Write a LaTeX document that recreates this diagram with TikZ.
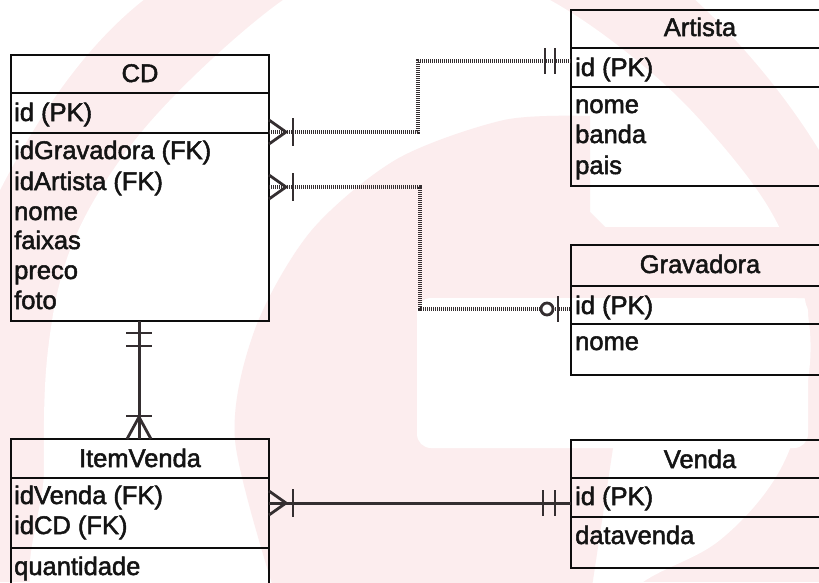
\documentclass[tikz,border=0pt]{standalone}
\usepackage{fontspec}
\setmainfont{Liberation Sans}
\newcommand\heavytext[1]{\special{pdf:literal direct 2 Tr 0.5 w}#1\special{pdf:literal direct 0 Tr}}
\definecolor{wm}{RGB}{252,237,238}
\definecolor{conn}{RGB}{52,46,48}
\begin{document}
\begin{tikzpicture}[x=1pt,y=-1pt,
  ent/.style={draw=black!95, line width=2.4pt, inner sep=0pt, outer sep=0pt, anchor=north west},
  sepline/.style={draw=black!95, line width=2.4pt},
  ttl/.style={font=\fontsize{25.5}{30}\selectfont, anchor=base, inner sep=0pt, text=black!92},
  fld/.style={font=\fontsize{25.5}{30}\selectfont, anchor=base west, inner sep=0pt, text=black!92},
  solidconn/.style={draw=conn, line width=3pt},
  dotconn/.style={draw=conn, line width=3.2pt, dash pattern=on 1.2pt off 0.8pt},
  mk/.style={draw=conn, line width=2.8pt},
]
\useasboundingbox (0,0) rectangle (819,582);
\clip (0,0) rectangle (819,582);
% watermark
\fill[wm] (0,0) rectangle (819,582);
\fill[white] (-5,-5) -- (-5,200) .. controls (40,110) and (90,40) .. (150,-5) -- cycle;
\fill[white] (690,-5) .. controls (740,40) and (790,100) .. (825,160) -- (825,-5) -- cycle;
\fill[white] plot[smooth cycle, tension=0.6] coordinates {(50,620) (44,470) (48,350) (70,250) (120,160) (190,80) (283,0) (360,-40) (460,-40) (550,0) (630,55) (700,120) (770,210) (805,300) (808,380) (780,470) (720,540) (643,582) (590,630) (300,640)};
\fill[wm] plot[smooth] coordinates {(277,600) (235,440) (255,329) (311,231) (397,159) (504,120) (590,116)} -- (590,212) -- (605,227) -- (830,227) -- (830,298) -- (613,298) -- (613,448) -- (590,600) -- cycle;
\fill[white, rounded corners=14pt] (417,298) rectangle (808,448);

% entities
\node[ent, minimum width=258pt, minimum height=266pt] (cd) at (11,55) {};
\node[ent, minimum width=258pt, minimum height=176pt] (art) at (571,10) {};
\node[ent, minimum width=258pt, minimum height=130pt] (gra) at (571,245) {};
\node[ent, minimum width=258pt, minimum height=128pt] (ven) at (571,440) {};
\node[ent, minimum width=258pt, minimum height=170pt] (iv) at (11,439) {};
\draw[sepline] (11,93) -- (269,93) (11,133) -- (269,133);
\draw[sepline] (571,48) -- (829,48) (571,87) -- (829,87);
\draw[sepline] (571,286) -- (829,286) (571,324) -- (829,324);
\draw[sepline] (571,478) -- (829,478) (571,517) -- (829,517);
\draw[sepline] (11,478) -- (269,478) (11,548) -- (269,548);

% texts
\node[ttl] (cdT) at (140,82) {\heavytext{CD}};
\node[fld] (cd1) at (14,121) {\heavytext{id (PK)}};
\node[fld] (cd2) at (14,159) {\heavytext{idGravadora (FK)}};
\node[fld] (cd3) at (14,190) {\heavytext{idArtista (FK)}};
\node[fld] (cd4) at (14,220) {\heavytext{nome}};
\node[fld] (cd5) at (14,249) {\heavytext{faixas}};
\node[fld] (cd6) at (14,279) {\heavytext{preco}};
\node[fld] (cd7) at (14,309) {\heavytext{foto}};

\node[ttl] (artT) at (700,36) {\heavytext{Artista}};
\node[fld] (art1) at (575,76) {\heavytext{id (PK)}};
\node[fld] (art2) at (575,113) {\heavytext{nome}};
\node[fld] (art3) at (575,143) {\heavytext{banda}};
\node[fld] (art4) at (575,174) {\heavytext{pais}};

\node[ttl] (graT) at (700,273) {\heavytext{Gravadora}};
\node[fld] (gra1) at (575,314) {\heavytext{id (PK)}};
\node[fld] (gra2) at (575,350) {\heavytext{nome}};

\node[ttl] (venT) at (700,468) {\heavytext{Venda}};
\node[fld] (ven1) at (575,505) {\heavytext{id (PK)}};
\node[fld] (ven2) at (575,544) {\heavytext{datavenda}};

\node[ttl] (ivT) at (140,467) {\heavytext{ItemVenda}};
\node[fld] (iv1) at (14,504) {\heavytext{idVenda (FK)}};
\node[fld] (iv2) at (14,534) {\heavytext{idCD (FK)}};
\node[fld] (iv3) at (14,575) {\heavytext{quantidade}};

% connector end points
\coordinate (cdA) at (269,132);
\coordinate (artA) at (571,61);
\coordinate (cdG) at (269,187);
\coordinate (graA) at (571,309);
\coordinate (cdB) at (139,321);
\coordinate (ivTop) at (139,439);
\coordinate (ivV) at (269,503);
\coordinate (venA) at (571,503);

% CD -- Artista
\draw[dotconn] (cdA) -- ++(149,0) |- (artA);
\draw[mk] (cdA) ++(0,-12) -- ++(17,12) -- ++(-17,12);
\draw[mk] (cdA) ++(24,-14) -- ++(0,28);
\draw[mk] (artA) ++(-26,-13) -- ++(0,26);
\draw[mk] (artA) ++(-16,-13) -- ++(0,26);

% CD -- Gravadora
\draw[dotconn] (cdG) -- ++(151,0) |- (graA);
\draw[mk] (cdG) ++(0,-12) -- ++(17,12) -- ++(-17,12);
\draw[mk] (cdG) ++(24,-14) -- ++(0,28);
\draw[mk, fill=white] (graA) ++(-24,0) circle (6);
\draw[mk] (graA) ++(-13,-13) -- ++(0,26);

% CD -- ItemVenda
\draw[solidconn] (cdB) -- (ivTop);
\draw[mk] (cdB) ++(-13,12) -- ++(26,0);
\draw[mk] (cdB) ++(-13,25) -- ++(26,0);
\draw[mk] (ivTop) ++(-12,0) -- ++(12,-22) -- ++(12,22);
\draw[mk] (ivTop) ++(-13,-23) -- ++(26,0);

% ItemVenda -- Venda
\draw[solidconn] (ivV) -- (venA);
\draw[mk] (ivV) ++(0,-12) -- ++(17,12) -- ++(-17,12);
\draw[mk] (ivV) ++(24,-14) -- ++(0,28);
\draw[mk] (venA) ++(-28,-13) -- ++(0,26);
\draw[mk] (venA) ++(-16,-13) -- ++(0,26);
\end{tikzpicture}
\end{document}
